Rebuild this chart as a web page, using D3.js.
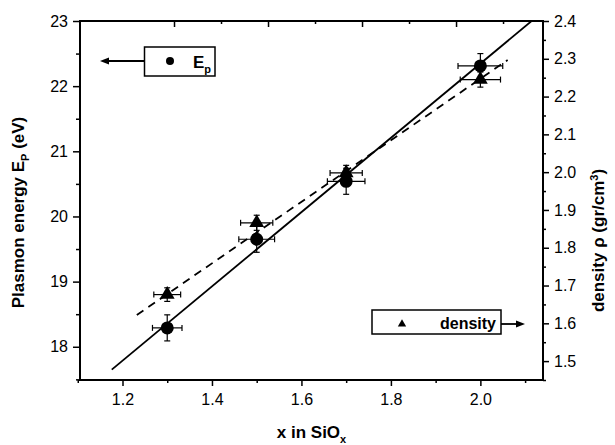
<!DOCTYPE html>
<html><head><meta charset="utf-8">
<script src="https://cdn.jsdelivr.net/npm/d3@7"></script>
<style>body{margin:0;background:#fff}svg{display:block}text{font-family:"Liberation Sans",Arial,sans-serif}</style>
</head><body><svg id="c" width="615" height="445"></svg>
<script>
// ---- data ----
const xValues = [1.3, 1.5, 1.7, 2.0];
const epValues = [18.29, 19.65, 20.54, 22.31];
const epErrY = [0.2, 0.2, 0.2, 0.19];
const epErrX = [0.033, 0.04, 0.042, 0.05];
const densityValues = [1.676, 1.866, 1.998, 2.245];
const densErrY = [0.018, 0.02, 0.02, 0.02];
const densErrX = [0.03, 0.036, 0.036, 0.045];
const epFitX = [1.176, 2.14];
const epFitSlope = 5.70, epFitIntercept = 17.65 - 5.70 * 1.176;
const densFitX = [1.232, 2.061];
const densFitSlope = 0.814, densFitIntercept = 1.622 - 0.814 * 1.232;
const xTicks = [1.2, 1.4, 1.6, 1.8, 2.0];
const xMinor = [1.1, 1.3, 1.5, 1.7, 1.9, 2.1];
const topTicks = [1.2, 1.4, 1.6, 1.8];
const topMinor = [1.3, 1.5, 1.7, 1.9];
const epTicks = [18, 19, 20, 21, 22, 23];
const epMinor = [17.5, 18.5, 19.5, 20.5, 21.5, 22.5];
const densTicks = [1.5, 1.6, 1.7, 1.8, 1.9, 2.0, 2.1, 2.2, 2.3, 2.4];
const densMinor = [1.45, 1.55, 1.65, 1.75, 1.85, 1.95, 2.05, 2.15, 2.25, 2.35];

const L = 80, R = 543, T = 21, B = 380;
const svg = d3.select("#c");
const x = d3.scaleLinear([1.105, 2.14], [L, R]);
const xTop = d3.scaleLinear([1.0, 1.985], [L, R]);
const yL = d3.scaleLinear([17.49, 23], [B, T]);
const yR = d3.scaleLinear([1.45, 2.4], [B, T]);
const fs = 16;

svg.append("defs").append("clipPath").attr("id","clip").append("rect")
  .attr("x", L).attr("y", T).attr("width", R - L).attr("height", B - T);

function styleAxis(g){
  g.select(".domain").remove();
  g.selectAll("line").attr("stroke","#000").attr("stroke-width",1.5);
  g.selectAll("text").attr("font-size",fs).attr("fill","#000");
}
// bottom
svg.append("g").attr("transform",`translate(0,${B})`)
  .call(d3.axisBottom(x).tickValues(xTicks).tickSize(6).tickPadding(8).tickFormat(d3.format(".1f"))).call(styleAxis);
svg.append("g").attr("transform",`translate(0,${B})`)
  .call(d3.axisBottom(x).tickValues(xMinor).tickSize(3).tickFormat("")).call(styleAxis);
// top (inward)
svg.append("g").attr("transform",`translate(0,${T})`)
  .call(d3.axisBottom(xTop).tickValues(topTicks).tickSize(6).tickFormat("")).call(styleAxis);
svg.append("g").attr("transform",`translate(0,${T})`)
  .call(d3.axisBottom(xTop).tickValues(topMinor).tickSize(3).tickFormat("")).call(styleAxis);
// left
svg.append("g").attr("transform",`translate(${L},0)`)
  .call(d3.axisLeft(yL).tickValues(epTicks).tickSize(7).tickPadding(5).tickFormat(d3.format("d"))).call(styleAxis);
svg.append("g").attr("transform",`translate(${L},0)`)
  .call(d3.axisLeft(yL).tickValues(epMinor).tickSize(4).tickFormat("")).call(styleAxis);
// right
svg.append("g").attr("transform",`translate(${R},0)`)
  .call(d3.axisRight(yR).tickValues(densTicks).tickSize(6).tickPadding(5).tickFormat(d3.format(".1f"))).call(styleAxis);
svg.append("g").attr("transform",`translate(${R},0)`)
  .call(d3.axisRight(yR).tickValues(densMinor).tickSize(3).tickFormat("")).call(styleAxis);

// frame
svg.append("rect").attr("x",L).attr("y",T).attr("width",R-L).attr("height",B-T)
  .attr("fill","none").attr("stroke","#000").attr("stroke-width",2);

const plot = svg.append("g").attr("clip-path","url(#clip)");
// fit lines
plot.append("path").datum(epFitX).attr("fill","none").attr("stroke","#000").attr("stroke-width",1.8)
  .attr("d", d3.line().x(d=>x(d)).y(d=>yL(epFitIntercept + epFitSlope*d)));
plot.append("path").datum(densFitX).attr("fill","none").attr("stroke","#000").attr("stroke-width",1.8)
  .attr("stroke-dasharray","8,6")
  .attr("d", d3.line().x(d=>x(d)).y(d=>yR(densFitIntercept + densFitSlope*d)));

function errorBars(vals, ex, ey, ys){
  const g = svg.append("g").attr("stroke","#000").attr("stroke-width",1.2);
  vals.forEach((v,i)=>{
    const cx = x(xValues[i]), cy = ys(v);
    const x0 = x(xValues[i]-ex[i]), x1 = x(xValues[i]+ex[i]);
    const y0 = ys(v-ey[i]), y1 = ys(v+ey[i]);
    g.append("line").attr("x1",x0).attr("x2",x1).attr("y1",cy).attr("y2",cy);
    g.append("line").attr("x1",cx).attr("x2",cx).attr("y1",y0).attr("y2",y1);
    g.append("line").attr("x1",x0).attr("x2",x0).attr("y1",cy-3).attr("y2",cy+3);
    g.append("line").attr("x1",x1).attr("x2",x1).attr("y1",cy-3).attr("y2",cy+3);
    g.append("line").attr("x1",cx-3).attr("x2",cx+3).attr("y1",y0).attr("y2",y0);
    g.append("line").attr("x1",cx-3).attr("x2",cx+3).attr("y1",y1).attr("y2",y1);
  });
}
errorBars(epValues, epErrX, epErrY, yL);
errorBars(densityValues, densErrX, densErrY, yR);

svg.append("g").selectAll("circle").data(epValues).join("circle")
  .attr("cx",(d,i)=>x(xValues[i])).attr("cy",d=>yL(d)).attr("r",6.5).attr("fill","#000");
const tri = d3.symbol().type(d3.symbolTriangle).size(95);
svg.append("g").selectAll("path").data(densityValues).join("path")
  .attr("transform",(d,i)=>`translate(${x(xValues[i])},${yR(d)})`).attr("d",tri).attr("fill","#000");

// legend 1
const lg1 = svg.append("g");
lg1.append("rect").attr("x",144.5).attr("y",47).attr("width",70.5).attr("height",29)
  .attr("fill","#fff").attr("stroke","#000").attr("stroke-width",1.5);
lg1.append("circle").attr("cx",170).attr("cy",61).attr("r",4).attr("fill","#000");
const t1 = lg1.append("text").attr("x",193).attr("y",68).attr("font-size",17).attr("font-weight","bold");
t1.append("tspan").text("E");
t1.append("tspan").attr("font-size",11).attr("dy",5).text("p");
lg1.append("line").attr("x1",144.5).attr("x2",104).attr("y1",61).attr("y2",61).attr("stroke","#000").attr("stroke-width",1.8);
lg1.append("path").attr("d","M100,61 L109,57.5 L109,64.5 Z").attr("fill","#000");

// legend 2
const lg2 = svg.append("g");
lg2.append("rect").attr("x",372).attr("y",310).attr("width",129).attr("height",24)
  .attr("fill","#fff").attr("stroke","#000").attr("stroke-width",1.5);
lg2.append("path").attr("transform","translate(402,324)").attr("d",d3.symbol().type(d3.symbolTriangle).size(30)).attr("fill","#000");
lg2.append("text").attr("x",496).attr("y",329).attr("text-anchor","end").attr("font-size",16).attr("font-weight","bold").text("density");
lg2.append("line").attr("x1",501).attr("x2",520).attr("y1",324).attr("y2",324).attr("stroke","#000").attr("stroke-width",1.8);
lg2.append("path").attr("d","M525,324 L516,320.5 L516,327.5 Z").attr("fill","#000");

// axis titles
const xt = svg.append("text").attr("x",(L+R)/2).attr("y",438).attr("text-anchor","middle")
  .attr("font-size",17).attr("font-weight","bold");
xt.append("tspan").text("x in SiO");
xt.append("tspan").attr("font-size",11).attr("dy",5).text("x");

const yt = svg.append("text").attr("transform",`translate(24,${(T+B)/2 + 12}) rotate(-90)`).attr("text-anchor","middle")
  .attr("font-size",17).attr("font-weight","bold");
yt.append("tspan").text("Plasmon energy   E");
yt.append("tspan").attr("font-size",11).attr("dy",5).text("P");
yt.append("tspan").attr("dy",-5).text(" (eV)");

const rt = svg.append("text").attr("transform",`translate(604,${(T+B)/2 + 40}) rotate(-90)`).attr("text-anchor","middle")
  .attr("font-size",17).attr("font-weight","bold");
rt.append("tspan").text("density ρ (gr/cm");
rt.append("tspan").attr("font-size",11).attr("dy",-6).text("3");
rt.append("tspan").attr("dy",6).text(")");
</script></body></html>
